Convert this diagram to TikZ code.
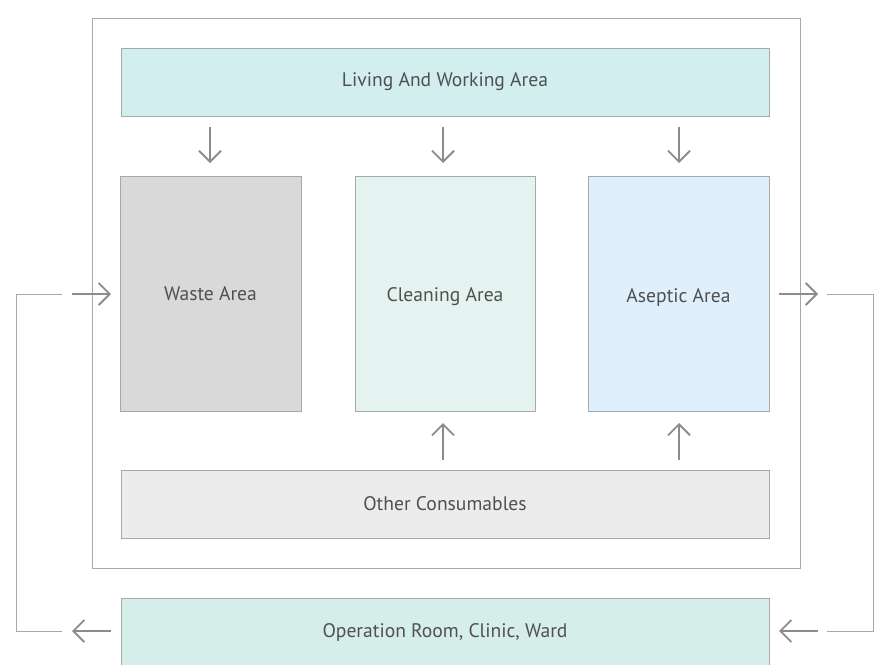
\documentclass[tikz,border=0pt]{standalone}
\usepackage{fontspec}
\setmainfont{PT Sans}
\usetikzlibrary{arrows.meta}
\definecolor{txt}{HTML}{505050}
\definecolor{arr}{HTML}{8C8C8C}
\definecolor{bord}{HTML}{A8A8A8}
\definecolor{livc}{HTML}{D3EEEE}
\definecolor{wastec}{HTML}{D9D9D9}
\definecolor{cleanc}{HTML}{E4F3EF}
\definecolor{asepc}{HTML}{DFF0FC}
\definecolor{otherc}{HTML}{ECECEC}
\definecolor{opc}{HTML}{D6EEE9}
\tikzset{
  lbl/.style={text=txt, font=\fontsize{19.6}{22}\selectfont},
  area/.style={draw=bord, line width=0.9pt, inner sep=0pt, lbl},
  flow/.style={draw=arr, line width=1.8pt, -{Straight Barb[length=11pt,width=22pt,line width=1.8pt]}},
  loopline/.style={draw=bord, line width=0.9pt}
}
\begin{document}
\begin{tikzpicture}[x=1pt,y=-1pt]
\useasboundingbox (0,0) rectangle (877,664);
\clip (0,0) rectangle (877,664);
\fill[white] (0,0) rectangle (877,664);
\node[draw=bord, line width=0.9pt, minimum width=708pt, minimum height=550pt, inner sep=0pt] (frame) at (446,293) {};
\node[area, fill=livc, minimum width=648pt, minimum height=68pt] (living) at (445,82) {Living And Working Area};
\node[area, fill=wastec, minimum width=181pt, minimum height=235pt] (waste) at (210.5,293.5) {};
\node[lbl] (wastet) at (210.5,294) {Waste Area};
\node[area, fill=cleanc, minimum width=180pt, minimum height=235pt] (clean) at (445,293.5) {};
\node[lbl] (cleant) at (445,297) {Cleaning Area};
\node[area, fill=asepc, minimum width=181pt, minimum height=235pt] (asep) at (678.5,293.5) {};
\node[lbl] (asept) at (678.5,297) {Aseptic Area};
\node[area, fill=otherc, minimum width=648pt, minimum height=68pt] (other) at (445,504) {Other Consumables};
\node[area, fill=opc, minimum width=648pt, minimum height=70pt] (op) at (445,633) {};
\node[lbl] (opt) at (445,632) {Operation Room, Clinic, Ward};
% down arrows
\coordinate (d1a) at (210,127); \coordinate (d1b) at (210,163);
\coordinate (d2a) at (443,127); \coordinate (d2b) at (443,163);
\coordinate (d3a) at (679,127); \coordinate (d3b) at (679,163);
\draw[flow] (d1a) -- (d1b);
\draw[flow] (d2a) -- (d2b);
\draw[flow] (d3a) -- (d3b);
% up arrows
\coordinate (u2a) at (443,460); \coordinate (u2b) at (443,423);
\coordinate (u3a) at (679,460); \coordinate (u3b) at (679,423);
\draw[flow] (u2a) -- (u2b);
\draw[flow] (u3a) -- (u3b);
% left loop
\coordinate (la) at (72,294); \coordinate (lb) at (111,294);
\draw[flow] (la) -- (lb);
\coordinate (ba) at (111,631); \coordinate (bb) at (72,631);
\draw[flow] (ba) -- (bb);
\coordinate (l1) at (62,294); \coordinate (l2) at (16,294);
\coordinate (l3) at (16,631); \coordinate (l4) at (62,631);
\draw[loopline] (l1) -- (l2) -- (l3) -- (l4);
% right loop
\coordinate (ra) at (779,294); \coordinate (rb) at (818,294);
\draw[flow] (ra) -- (rb);
\coordinate (rba) at (818,631); \coordinate (rbb) at (779,631);
\draw[flow] (rba) -- (rbb);
\coordinate (r1) at (827,294); \coordinate (r2) at (873,294);
\coordinate (r3) at (873,631); \coordinate (r4) at (827,631);
\draw[loopline] (r1) -- (r2) -- (r3) -- (r4);
\end{tikzpicture}
\end{document}
